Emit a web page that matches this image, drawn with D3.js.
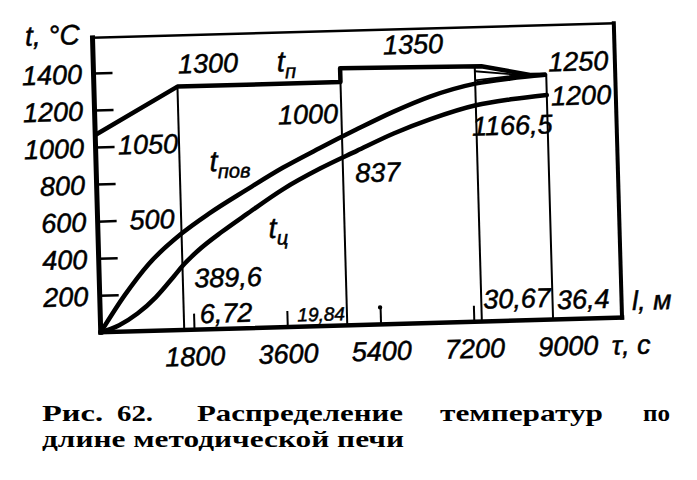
<!DOCTYPE html>
<html><head><meta charset="utf-8">
<script src="https://cdn.jsdelivr.net/npm/d3@7"></script>
<style>
html,body{margin:0;padding:0;background:#fff;}
svg{display:block;}
</style></head><body>
<svg id="chart" width="697" height="480"></svg>
<script>
// ---------------- data ----------------
const yTicks = [200, 400, 600, 800, 1000, 1200, 1400];          // t, °C
const tauTicks = [1800, 3600, 5400, 7200, 9000];                 // τ, c
const zoneBounds = [6.72, 19.84, 30.67, 36.4];                  // l, м
const zoneTops = [1314, 1388, 1380, 1322];                       // °C where zone line meets t_п
const zoneLabels = ["6,72", "19,84", "30,67", "36,4"];
// furnace gas temperature t_п
const gasL = [0, 6.72, 19.84, 19.84, 31.2, 35.1, 36.4];
const gasT = [1065, 1314, 1314, 1388, 1378, 1324, 1322];
// surface temperature t_пов
const surfL = [0, 2, 4, 6.72, 9, 12, 15, 18, 21, 24, 27, 30.67, 33.5, 36.3];
const surfT = [0, 195, 360, 520, 625, 745, 860, 960, 1055, 1145, 1222, 1285, 1308, 1322];
// centre temperature t_ц
const coreL = [0, 1.5, 3, 4.5, 6, 6.72, 8, 10, 12, 15, 18, 21, 24, 27, 30.67, 33.5, 36.4];
const coreT = [0, 35, 95, 180, 290, 345, 425, 525, 615, 745, 850, 940, 1028, 1100, 1168, 1195, 1213];
// small wedge drawn in the soaking zone
const wedgeL = [30.67, 34.3, 30.67];
const wedgeT = [1352, 1325, 1303];

// ---------------- layout ----------------
const F = "'Liberation Sans', Arial, sans-serif";
const svg = d3.select('#chart');
const g = svg.append('g').attr('transform', 'rotate(-1.6,357,177)');

const x = d3.scaleLinear().domain([0, 41.95]).range([96.5, 618]);
const y = d3.scaleLinear().domain([0, 1590]).range([325, 30.5]);
const xt = d3.scaleLinear().domain([0, 10060]).range([96.5, 618]);

const L0 = x.domain()[0], L1 = x.domain()[1], T1 = y.domain()[1];

function seg(x1, y1, x2, y2, w) {
  g.append('line').attr('x1', x1).attr('y1', y1).attr('x2', x2).attr('y2', y2)
    .attr('stroke', '#000').attr('stroke-width', w).attr('stroke-linecap', 'square');
}
function ink(t) { return t.attr('stroke', '#000').attr('stroke-width', 0.5); }
function txt(s, px, py, anchor, size) {
  return ink(g.append('text').attr('x', px).attr('y', py).attr('dy', '0.36em')
    .attr('text-anchor', anchor || 'middle').attr('font-family', F)
    .attr('font-style', 'italic').attr('font-size', size || 27).attr('fill', '#000').text(s));
}
function symbol(main, sub, px, py) {
  const t = ink(g.append('text').attr('x', px).attr('y', py).attr('dy', '0.36em')
    .attr('font-family', F).attr('font-style', 'italic').attr('font-size', 29).attr('fill', '#000'));
  t.append('tspan').text(main);
  t.append('tspan').attr('font-size', 20).attr('dy', 7).text(sub);
}

// zone boundary lines
zoneBounds.forEach((b, i) => seg(x(b), y(zoneTops[i]), x(b), y(0), 2));

// frame
seg(x(L0), y(T1), x(L1), y(T1), 2.5);
seg(x(L1), y(T1), x(L1), y(0), 4);

// y axis
const ya = d3.axisLeft(y).tickValues(yTicks).tickSizeInner(-19).tickSizeOuter(0)
  .tickPadding(11.5).tickFormat(d => d);
const yg = g.append('g').attr('transform', `translate(${x(0)},0)`).call(ya)
  .attr('font-family', F).attr('font-size', 27);
yg.select('.domain').remove();
yg.selectAll('.tick line').attr('stroke', '#000').attr('stroke-width', 2.5);
ink(yg.selectAll('.tick text').attr('font-style', 'italic').attr('fill', '#000').attr('dy', '0.36em'));

// x (time) axis
const xa = d3.axisBottom(xt).tickValues(tauTicks).tickSizeInner(-16).tickSizeOuter(0)
  .tickPadding(17).tickFormat(d => d);
const xg = g.append('g').attr('transform', `translate(0,${y(0)})`).call(xa)
  .attr('font-family', F).attr('font-size', 27);
xg.select('.domain').remove();
xg.selectAll('.tick line').attr('stroke', '#000').attr('stroke-width', 2)
  .attr('y2', d => d === 9000 ? 0 : -16);
ink(xg.selectAll('.tick text').attr('font-style', 'italic').attr('fill', '#000'));
g.append('circle').attr('cx', xt(5400)).attr('cy', y(0) - 17).attr('r', 2.2).attr('fill', '#000');

// main axes lines
seg(x(L0), y(T1), x(L0), y(0), 5);
seg(x(L0), y(0), x(L1), y(0), 4.5);

// curves
const line = d3.line().x(d => x(d[0])).y(d => y(d[1]));
const smooth = d3.line().x(d => x(d[0])).y(d => y(d[1])).curve(d3.curveMonotoneX);
g.append('path').attr('d', line(gasL.map((l, i) => [l, gasT[i]])))
  .attr('fill', 'none').attr('stroke', '#000').attr('stroke-width', 4.5).attr('stroke-linejoin', 'round');
g.append('path').attr('d', line(wedgeL.map((l, i) => [l, wedgeT[i]])))
  .attr('fill', 'none').attr('stroke', '#000').attr('stroke-width', 1.8);
g.append('path').attr('d', smooth(surfL.map((l, i) => [l, surfT[i]])))
  .attr('fill', 'none').attr('stroke', '#000').attr('stroke-width', 4.5).attr('stroke-linecap', 'round');
g.append('path').attr('d', smooth(coreL.map((l, i) => [l, coreT[i]])))
  .attr('fill', 'none').attr('stroke', '#000').attr('stroke-width', 4.5).attr('stroke-linecap', 'round');

// zone length labels
const zoneDx = [16, -2, 2, 4.5], zoneDy = [-16, -12, -22.5, -20];
zoneLabels.forEach((s, i) => {
  txt(s, x(zoneBounds[i]) + zoneDx[i], y(0) + zoneDy[i], i === 1 ? 'end' : 'start', i === 1 ? 19 : 27);
});
txt('l, м', x(L1) + 10.5, y(0) - 17, 'start', 27);
txt('τ, с', x(L1) - 11, y(0) + 27, 'start', 27);
txt('t, °C', x(L0) - 67.5, y(T1) - 4, 'start', 28);

// value annotations
txt('1300', x(9.23), y(1437));
txt('1350', x(25.76), y(1509));
txt('1250', x(39.0), y(1392));
txt('1200', x(39.16), y(1208));
txt('1166,5', x(33.55), y(1057));
txt('1000', x(17.16), y(1147));
txt('1050', x(1.81), y(1009), 'start');
txt('837', x(22.64), y(823));
txt('500', x(4.37), y(603));
txt('389,6', x(10.35), y(279));
symbol('t', 'п', x(14.76), y(1437));
symbol('t', 'пов', x(9.13), y(908));
symbol('t', 'ц', x(13.72), y(539));

// caption (not skewed)
const CF = "'Liberation Serif', 'Times New Roman', serif";
const capWords = [
  ['Рис.', 42, 61, 421], ['62.', 117, 36, 421], ['Распределение', 197, 206, 421],
  ['температур', 440, 163, 421], ['по', 643, 27, 421],
  ['длине методической печи', 42, 362, 447]
];
capWords.forEach(w => {
  svg.append('text').attr('x', w[1]).attr('y', w[3]).attr('textLength', w[2])
    .attr('lengthAdjust', 'spacingAndGlyphs').attr('font-family', CF)
    .attr('font-weight', 'bold').attr('font-size', 24).attr('fill', '#000').text(w[0]);
});
</script>
</body></html>
